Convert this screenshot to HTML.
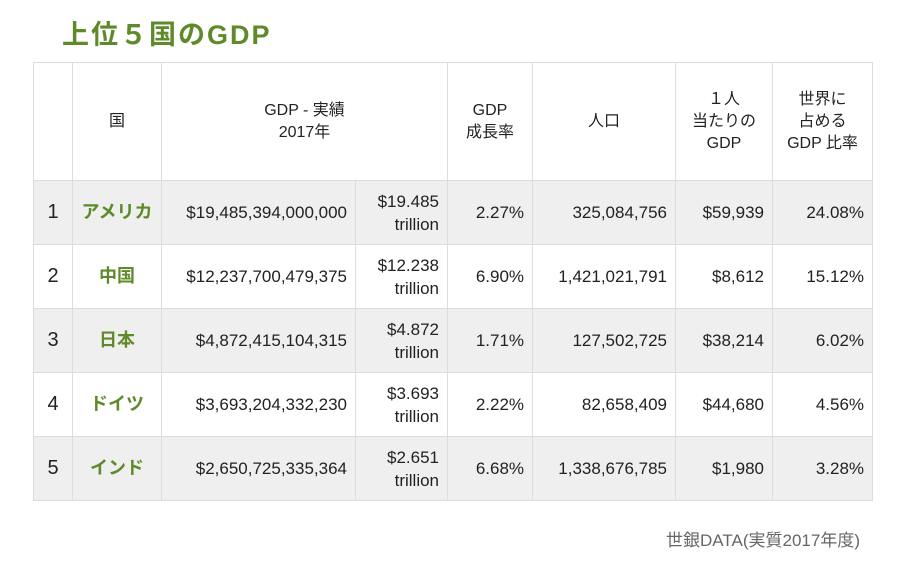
<!DOCTYPE html>
<html><head><meta charset="utf-8"><style>
body{margin:0;width:900px;height:563px;background:#fff;font-family:"Liberation Sans","Noto Sans CJK JP",sans-serif;color:#222;position:relative;overflow:hidden}
h1{position:absolute;left:62px;top:13px;margin:0;font-size:27px;font-weight:bold;color:#5e8a2a;letter-spacing:2px}
table{position:absolute;left:33px;top:62px;border-collapse:collapse;table-layout:fixed;width:839px;border:1.5px solid #111}
td{border:1px solid #ddd;font-size:17px;padding:0 8px;line-height:23px}
tr.h td{height:117px;text-align:center;font-size:16px;line-height:22px}
tr.r td{height:63px;text-align:right}
tr.g td{background:#efefef}
td.n{text-align:center!important;font-size:20px;padding:0}
td.c{text-align:center!important;color:#5e8a2a;font-weight:bold;font-size:18px;padding:0}
.foot{position:absolute;right:40px;top:526px;font-size:17px;color:#666}
</style></head><body>
<h1>上位５国のGDP</h1>
<table>
<colgroup><col style="width:39px"><col style="width:89px"><col style="width:194px"><col style="width:92px"><col style="width:85px"><col style="width:143px"><col style="width:97px"><col style="width:100px"></colgroup>
<tr class="h"><td></td><td>国</td><td colspan="2">GDP - 実績<br>2017年</td><td>GDP<br>成長率</td><td>人口</td><td>１人<br>当たりの<br>GDP</td><td>世界に<br>占める<br>GDP 比率</td></tr>
<tr class="r g"><td class="n">1</td><td class="c">アメリカ</td><td>$19,485,394,000,000</td><td>$19.485<br>trillion</td><td>2.27%</td><td>325,084,756</td><td>$59,939</td><td>24.08%</td></tr>
<tr class="r"><td class="n">2</td><td class="c">中国</td><td>$12,237,700,479,375</td><td>$12.238<br>trillion</td><td>6.90%</td><td>1,421,021,791</td><td>$8,612</td><td>15.12%</td></tr>
<tr class="r g"><td class="n">3</td><td class="c">日本</td><td>$4,872,415,104,315</td><td>$4.872<br>trillion</td><td>1.71%</td><td>127,502,725</td><td>$38,214</td><td>6.02%</td></tr>
<tr class="r"><td class="n">4</td><td class="c">ドイツ</td><td>$3,693,204,332,230</td><td>$3.693<br>trillion</td><td>2.22%</td><td>82,658,409</td><td>$44,680</td><td>4.56%</td></tr>
<tr class="r g"><td class="n">5</td><td class="c">インド</td><td>$2,650,725,335,364</td><td>$2.651<br>trillion</td><td>6.68%</td><td>1,338,676,785</td><td>$1,980</td><td>3.28%</td></tr>
</table>
<div class="foot">世銀DATA(実質2017年度)</div>
</body></html>
